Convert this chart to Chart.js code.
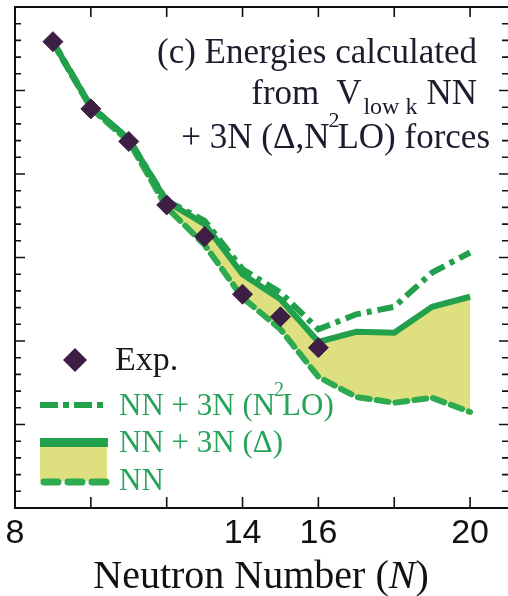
<!DOCTYPE html>
<html>
<head>
<meta charset="utf-8">
<script src="https://cdn.jsdelivr.net/npm/chart.js@4.4.1/dist/chart.umd.min.js"></script>
<style>
  body { margin: 0; background: #fff; }
  #wrap { position: relative; width: 508px; height: 596px; overflow: hidden; }
  .t { position: absolute; white-space: nowrap; font-family: "Liberation Serif", "Times New Roman", serif; line-height: 1; }
  .note { color: #1c1c2e; font-size: 35px; text-align: right; }
  .leg { color: #27a35a; font-size: 31px; }
</style>
</head>
<body>
<div id="wrap">
  <canvas id="myChart" width="508" height="596"></canvas>

  <div class="t note" style="right:31px; top:34px;">(c) Energies calculated</div>
  <div class="t note" style="right:31px; top:75px;">from&nbsp; V<span style="font-size:24px; position:relative; top:10px; margin:0 9px 0 2px;">low k</span>NN</div>
  <div class="t note" style="right:18px; top:119px;">+ 3N (Δ,N<span style="font-size:22px; position:relative; top:-21px; margin:0 -2px 0 -1px;">2</span>LO) forces</div>

  <div class="t" style="left:115px; top:342px; font-size:34px; color:#1a1a1a;">Exp.</div>
  <div class="t leg" style="left:119px; top:389px;">NN + 3N (N<span style="font-size:20px; position:relative; top:-19px; margin:0 -2px 0 -1px;">2</span>LO)</div>
  <div class="t leg" style="left:119px; top:426px;">NN + 3N (Δ)</div>
  <div class="t leg" style="left:119px; top:464px;">NN</div>

  <div class="t" style="left:0; width:508px; padding-left:14px; box-sizing:border-box; text-align:center; top:555px; font-size:40px; color:#111;">Neutron Number (<i>N</i>)</div>
</div>
<script>
// neutron numbers and energies (MeV)
var expN = [9, 10, 11, 12, 13, 14, 15, 16];
var expE = [-4.15, -12.2, -16.1, -23.7, -27.5, -34.4, -37.1, -40.8];

var calcN = [9, 10, 11, 12, 13, 14, 15, 16, 17, 18, 19, 20];
var n2loE = [-4.1, -11.9, -15.8, -23.2, -25.6, -31.4, -34.2, -38.6, -36.8, -35.9, -31.8, -29.4];
var deltaE = [-4.2, -11.9, -15.8, -23.3, -26.0, -32.0, -35.0, -40.1, -38.9, -39.0, -35.9, -34.7];
var nnE = [-4.3, -12.1, -16.1, -24.0, -28.5, -34.8, -38.6, -44.3, -46.7, -47.4, -46.8, -48.5];

var xLabels = [8, 14, 16, 20];

var green = "#22a04b";
var yellow = "#dee080";

function pts(xs, ys) {
  return xs.map(function (x, i) { return { x: x, y: ys[i] }; });
}

// frame with inward ticks + legend swatches
var framePlugin = {
  id: "frame",
  afterDatasetsDraw: function (chart) {
    var ctx = chart.ctx, a = chart.chartArea;
    var xs = chart.scales.x, ys = chart.scales.y;
    ctx.save();
    ctx.strokeStyle = "#111";
    ctx.lineWidth = 2;
    ctx.beginPath();
    ctx.moveTo(a.right, a.top); ctx.lineTo(a.left, a.top);
    ctx.lineTo(a.left, a.bottom); ctx.lineTo(a.right, a.bottom);
    ctx.stroke();

    ctx.lineWidth = 1.6;
    ctx.beginPath();
    for (var v = 10; v <= 20; v += 2) {
      var px = xs.getPixelForValue(v);
      ctx.moveTo(px, a.bottom); ctx.lineTo(px, a.bottom - 11);
      ctx.moveTo(px, a.top); ctx.lineTo(px, a.top + 10);
    }
    for (var e = -58; e < 0; e += 2) {
      var py = ys.getPixelForValue(e);
      var major = (e % 10 === 0);
      ctx.moveTo(a.left, py); ctx.lineTo(a.left + (major ? 10 : 6), py);
      ctx.moveTo(a.right, py); ctx.lineTo(a.right - (major ? 9 : 6), py);
    }
    ctx.stroke();
    ctx.restore();
  },
  afterDraw: function (chart) {
    var ctx = chart.ctx;
    ctx.save();
    // diamond
    ctx.fillStyle = "#3d1f45";
    ctx.beginPath();
    ctx.moveTo(75, 348); ctx.lineTo(87, 360); ctx.lineTo(75, 372); ctx.lineTo(63, 360);
    ctx.closePath(); ctx.fill();
    // dash-dot
    ctx.strokeStyle = green;
    ctx.lineWidth = 6;
    ctx.setLineDash([18, 5, 6, 5]);
    ctx.beginPath(); ctx.moveTo(40, 405); ctx.lineTo(108, 405); ctx.stroke();
    // band
    ctx.setLineDash([]);
    ctx.fillStyle = yellow;
    ctx.fillRect(40, 446, 67, 35);
    ctx.fillStyle = green;
    ctx.fillRect(40, 438, 68, 9);
    // dashed
    ctx.lineWidth = 7;
    ctx.lineCap = "round";
    ctx.strokeStyle = "#2eaa4f";
    ctx.setLineDash([14, 10]);
    ctx.beginPath(); ctx.moveTo(44, 482); ctx.lineTo(112, 482); ctx.stroke();
    ctx.restore();
  }
};

var ctx = document.getElementById("myChart").getContext("2d");
var chart = new Chart(ctx, {
  type: "scatter",
  data: {
    datasets: [
      {
        label: "Exp.",
        data: pts(expN, expE),
        pointStyle: "rectRot",
        pointRadius: 10,
        pointBackgroundColor: "#3d1f45",
        pointBorderColor: "#3d1f45",
        pointBorderWidth: 1,
        showLine: false
      },
      {
        label: "NN + 3N (N2LO)",
        data: pts(calcN, n2loE),
        showLine: true,
        borderColor: green,
        borderWidth: 6,
        borderDash: [16, 6, 5, 6],
        pointRadius: 0,
        fill: false
      },
      {
        label: "NN + 3N (Δ)",
        data: pts(calcN, deltaE),
        showLine: true,
        borderColor: green,
        borderWidth: 6,
        pointRadius: 0,
        backgroundColor: yellow,
        fill: { target: 3 }
      },
      {
        label: "NN",
        data: pts(calcN, nnE),
        showLine: true,
        borderColor: "#2eaa4f",
        borderWidth: 6,
        borderDash: [12, 7],
        borderCapStyle: "round",
        pointRadius: 0,
        fill: false
      }
    ]
  },
  options: {
    responsive: false,
    animation: false,
    layout: { autoPadding: false, padding: { left: 15, right: 0, top: 7, bottom: 0 } },
    plugins: {
      legend: { display: false },
      tooltip: { enabled: false },
      filler: { drawTime: "beforeDatasetsDraw" }
    },
    scales: {
      x: {
        type: "linear",
        min: 8,
        max: 21,
        grid: { display: false, drawTicks: false },
        border: { display: false },
        afterFit: function (s) { s.height = 88; s.paddingRight = 0; },
        ticks: {
          stepSize: 2,
          includeBounds: false,
          autoSkip: false,
          maxRotation: 0,
          padding: 5,
          color: "#111",
          font: { family: "Liberation Sans", size: 34 },
          callback: function (v) { return xLabels.indexOf(v) >= 0 ? v : ""; }
        }
      },
      y: {
        display: false,
        min: -60,
        max: 0
      }
    }
  },
  plugins: [framePlugin]
});
</script>
</body>
</html>
